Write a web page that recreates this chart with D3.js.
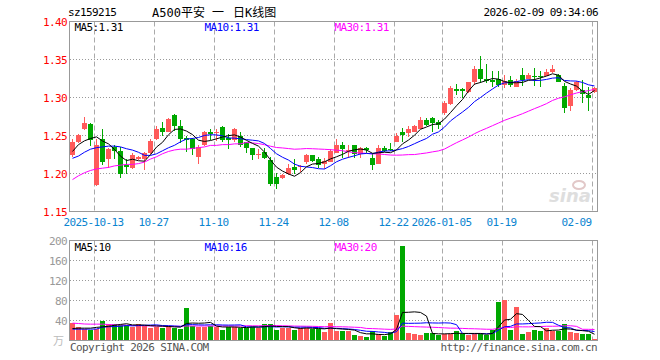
<!DOCTYPE html>
<html>
<head>
<meta charset="utf-8">
<script src="https://cdn.jsdelivr.net/npm/d3@7"></script>
<style>
body{margin:0;background:#fff;}
svg text{font-family:"DejaVu Sans Mono","Noto Sans CJK SC",monospace;font-size:11px;letter-spacing:-0.6px;}
</style>
</head>
<body>
<svg id="chart" width="660" height="360"></svg>
<script>
// trading days shown (88 slots)
var dates = ["2025-09-29","2025-09-30","2025-10-09","2025-10-10",
"2025-10-13","2025-10-14","2025-10-15","2025-10-16","2025-10-17",
"2025-10-20","2025-10-21","2025-10-22","2025-10-23","2025-10-24",
"2025-10-27","2025-10-28","2025-10-29","2025-10-30","2025-10-31",
"2025-11-03","2025-11-04","2025-11-05","2025-11-06","2025-11-07",
"2025-11-10","2025-11-11","2025-11-12","2025-11-13","2025-11-14",
"2025-11-17","2025-11-18","2025-11-19","2025-11-20","2025-11-21",
"2025-11-24","2025-11-25","2025-11-26","2025-11-27","2025-11-28",
"2025-12-01","2025-12-02","2025-12-03","2025-12-04","2025-12-05",
"2025-12-08","2025-12-09","2025-12-10","2025-12-11","2025-12-12",
"2025-12-15","2025-12-16","2025-12-17","2025-12-18","2025-12-19",
"2025-12-22","2025-12-23","2025-12-24","2025-12-25","2025-12-26",
"2025-12-29","2025-12-30","2025-12-31",
"2026-01-05","2026-01-06","2026-01-07","2026-01-08","2026-01-09",
"2026-01-12","2026-01-13","2026-01-14","2026-01-15","2026-01-16",
"2026-01-19","2026-01-20","2026-01-21","2026-01-22","2026-01-23",
"2026-01-26","2026-01-27","2026-01-28","2026-01-29","2026-01-30",
"2026-02-02","2026-02-03","2026-02-04","2026-02-05","2026-02-06",
"2026-02-09"];

var opens = [1.225,1.241,1.259,1.265,1.185,1.246,1.219,1.235,1.230,1.211,
1.207,1.219,1.219,1.227,1.245,1.260,1.255,1.277,1.262,1.247,
1.245,1.222,1.237,1.255,1.253,1.261,1.247,1.244,1.250,1.241,
1.233,1.224,1.228,1.218,1.195,1.194,1.199,1.209,1.208,1.215,
1.224,1.219,1.212,1.215,1.227,1.238,1.230,1.237,1.226,1.234,
1.221,1.213,1.233,1.232,1.241,1.255,1.253,1.255,1.259,1.270,
1.273,1.268,1.279,1.292,1.311,1.311,1.307,1.321,1.338,1.325,
1.323,1.324,1.317,1.323,1.314,1.329,1.324,1.328,1.328,1.328,
1.333,1.329,1.315,1.289,1.310,1.310,1.303,1.307];
var highs = [1.245,1.252,1.274,1.266,1.245,1.259,1.234,1.238,1.235,1.219,
1.227,1.223,1.228,1.245,1.262,1.268,1.273,1.278,1.270,1.249,
1.247,1.237,1.256,1.259,1.259,1.263,1.252,1.260,1.255,1.242,
1.234,1.232,1.234,1.222,1.201,1.200,1.212,1.219,1.211,1.226,
1.225,1.222,1.220,1.232,1.245,1.241,1.238,1.238,1.235,1.235,
1.227,1.238,1.236,1.240,1.253,1.260,1.263,1.264,1.275,1.273,
1.275,1.271,1.295,1.315,1.318,1.313,1.321,1.341,1.354,1.344,
1.335,1.335,1.330,1.328,1.325,1.339,1.332,1.339,1.335,1.337,
1.343,1.331,1.319,1.312,1.322,1.323,1.314,1.314];
var lows = [1.222,1.240,1.257,1.236,1.183,1.211,1.207,1.219,1.194,1.200,
1.206,1.218,1.205,1.226,1.244,1.249,1.255,1.256,1.240,1.228,
1.225,1.212,1.236,1.244,1.243,1.241,1.232,1.242,1.235,1.227,
1.218,1.219,1.219,1.183,1.179,1.193,1.198,1.200,1.202,1.212,
1.215,1.207,1.206,1.215,1.227,1.220,1.220,1.220,1.220,1.227,
1.205,1.213,1.228,1.229,1.241,1.242,1.248,1.255,1.259,1.262,
1.254,1.258,1.277,1.290,1.303,1.299,1.306,1.317,1.319,1.319,
1.314,1.314,1.312,1.314,1.314,1.315,1.324,1.315,1.314,1.328,
1.332,1.321,1.280,1.282,1.309,1.293,1.282,1.306];
var closes = [1.242,1.251,1.267,1.244,1.237,1.215,1.232,1.230,1.200,1.208,
1.224,1.222,1.227,1.243,1.258,1.255,1.272,1.262,1.246,1.244,
1.232,1.235,1.254,1.252,1.255,1.244,1.244,1.259,1.238,1.233,
1.224,1.226,1.220,1.186,1.186,1.198,1.207,1.205,1.210,1.224,
1.216,1.211,1.216,1.229,1.238,1.232,1.231,1.226,1.234,1.231,
1.211,1.234,1.230,1.231,1.249,1.251,1.259,1.262,1.270,1.264,
1.267,1.264,1.293,1.313,1.309,1.308,1.320,1.338,1.324,1.322,
1.321,1.316,1.322,1.316,1.322,1.323,1.330,1.327,1.327,1.334,
1.338,1.321,1.286,1.310,1.320,1.305,1.299,1.312];
// volume, 万手
var volumes = [34.7,26.7,24,22,24,40,32.7,32.7,31.3,31,
28,33.3,30,26,28,26,30,26,23.3,65.3,
30,28,28,30,28,21.3,28,28,26,26,
28,26,32.7,32.7,21.3,26,26,21.3,26,26,
23.3,23.3,18,34.7,19.3,19.3,19.3,11.3,9.3,7.3,
19.3,13.3,9.3,17.3,51.3,189.3,15.3,13.3,11.3,15.3,
15.3,11.3,13.3,13.3,19.3,13.3,11.3,13.3,13.3,11.3,
21.3,77.3,81.3,21.3,67.3,13.3,17.3,21.3,19.3,25.3,
19.3,19.3,33.3,17.3,15.3,13.3,13.3,3.3];

// average values at the left edge (their windows start before the first day shown)
var ma5Head = [1.229,1.238,1.243,1.246];
var ma10Head = [1.220,1.223,1.228,1.232,1.234,1.235,1.236,1.236,1.235];
var ma30Head = [1.192,1.197,1.201,1.204,1.206,1.207,1.208,1.210,1.211,1.212,
1.212,1.213,1.215,1.219,1.222,1.226,1.229,1.231,1.232,1.232,
1.233,1.234,1.235,1.237,1.237,1.238,1.238,1.239,1.239];
var vma5Head = [24,24.7,24.7,24.7];
var vma10Head = [22.7,22.7,22.7,22.7,23,26.5,27.5,28,28.5];
var vma30Head = [34.7,34,33,32.7,32.7,32.7,32,31.5,31,30.5,
30,29.5,29.5,29,29,28.5,28.5,28.5,28.5,29,
29,29,29,29,29,29,29,29,29];

var priceTicks = [1.15,1.20,1.25,1.30,1.35,1.40];
var volTicks = [40,80,120,160,200];
var dateTicks = ["2025-10-13","2025-10-27","2025-11-10","2025-11-24","2025-12-08","2025-12-22","2026-01-05","2026-01-19","2026-02-09"];
var dateTickLabels = ["2025-10-13","10-27","11-10","11-24","12-08","12-22","2026-01-05","01-19","02-09"];

var legendPrice = ["MA5:1.31","MA10:1.31","MA30:1.31"];
var legendVol = ["MA5:10","MA10:16","MA30:20"];
var maColors = ["#000000","#0000ff","#ff00ff"];
var upColor = "#ff5a5a", downColor = "#00a800";

function movingAvg(vals, n, head){
	return vals.map(function(v,i){
		if(i < n-1) return head[i];
		return d3.mean(vals.slice(i-n+1,i+1));
	});
}

var svg = d3.select("#chart");
var left = 70, right = 598;
var x = d3.scaleBand().domain(d3.range(dates.length)).range([left,right]).padding(0);
var y = d3.scaleLinear().domain([1.15,1.40]).range([211.5,21.5]);
var yv = d3.scaleLinear().domain([0,200]).range([340.5,240.5]);
var tickIdx = dateTicks.map(function(d){ return dates.indexOf(d); });

// header
svg.append("text").attr("x",68).attr("y",16).text("sz159215");
svg.append("text").attr("x",152).attr("y",17).style("font-size","12px").style("letter-spacing","0px").text("A500平安");
svg.append("text").attr("x",212).attr("y",17).style("font-size","12px").style("letter-spacing","0px").text("一");
svg.append("text").attr("x",233).attr("y",17).style("font-size","12px").style("letter-spacing","0px").text("日K线图");
svg.append("text").attr("x",598).attr("y",16).attr("text-anchor","end").text("2026-02-09 09:34:06");

// watermark
var wm = svg.append("g").attr("fill","#dedede");
wm.append("ellipse").attr("cx",579).attr("cy",185).attr("rx",6).attr("ry",4).attr("fill","none").attr("stroke","#e2c8c8").attr("stroke-width",2);
wm.append("text").attr("x",549).attr("y",202).style("font-family","'DejaVu Sans'").style("font-size","18px").style("font-weight","bold").style("font-style","italic").style("letter-spacing","0px").text("sina");

// grid: horizontal dotted
svg.append("g").selectAll("line").data(priceTicks.slice(1,-1)).enter().append("line")
	.attr("x1",left).attr("x2",right-0.5).attr("y1",function(d){return y(d);}).attr("y2",function(d){return y(d);})
	.attr("stroke","#999").attr("stroke-dasharray","1,2");
svg.append("g").selectAll("line").data(volTicks.slice(0,-1)).enter().append("line")
	.attr("x1",left).attr("x2",right-0.5).attr("y1",function(d){return yv(d);}).attr("y2",function(d){return yv(d);})
	.attr("stroke","#999").attr("stroke-dasharray","1,2");

// grid: vertical dashed at date ticks
[[21.5,211.5],[240.5,340.5]].forEach(function(r){
	svg.append("g").selectAll("line").data(tickIdx).enter().append("line")
		.attr("x1",function(i){return x(i)+0.5;}).attr("x2",function(i){return x(i)+0.5;})
		.attr("y1",r[0]).attr("y2",r[1])
		.attr("stroke","#aaa").attr("stroke-dasharray","5,3");
});

// frames
svg.append("rect").attr("x",left-0.5).attr("y",21.5).attr("width",right-left).attr("height",190).attr("fill","none").attr("stroke","#999");
svg.append("rect").attr("x",left-0.5).attr("y",240.5).attr("width",right-left).attr("height",100).attr("fill","none").attr("stroke","#999");

// candles
var idx = d3.range(dates.length);
var cg = svg.append("g").attr("shape-rendering","crispEdges");
cg.selectAll("rect.wick").data(idx).enter().append("rect").attr("class","wick")
	.attr("x",function(i){return x(i)+2;}).attr("width",1)
	.attr("y",function(i){return y(highs[i]);})
	.attr("height",function(i){return Math.max(1,y(lows[i])-y(highs[i]));})
	.attr("fill",function(i){return closes[i]>=opens[i]?upColor:downColor;});
cg.selectAll("rect.body").data(idx).enter().append("rect").attr("class","body")
	.attr("x",function(i){return x(i);}).attr("width",5)
	.attr("y",function(i){return y(Math.max(opens[i],closes[i]));})
	.attr("height",function(i){return Math.max(1,Math.abs(y(opens[i])-y(closes[i])));})
	.attr("fill",function(i){return closes[i]>=opens[i]?upColor:downColor;});

// volume bars
svg.append("g").attr("shape-rendering","crispEdges").selectAll("rect").data(idx).enter().append("rect")
	.attr("x",function(i){return x(i);}).attr("width",5)
	.attr("y",function(i){return yv(volumes[i]);})
	.attr("height",function(i){return yv(0)-0.5-yv(volumes[i]);})
	.attr("fill",function(i){return closes[i]>=opens[i]?upColor:downColor;});

// moving average lines
var priceMA = [movingAvg(closes,5,ma5Head),movingAvg(closes,10,ma10Head),movingAvg(closes,30,ma30Head)];
var volMA = [movingAvg(volumes,5,vma5Head),movingAvg(volumes,10,vma10Head),movingAvg(volumes,30,vma30Head)];
var pline = d3.line().x(function(d,i){return x(i)+2.5;}).y(function(d){return y(d);});
var vline = d3.line().x(function(d,i){return x(i)+2.5;}).y(function(d){return yv(d);});
[2,1,0].forEach(function(k){
	svg.append("path").attr("d",pline(priceMA[k])).attr("fill","none").attr("stroke",maColors[k]).attr("stroke-width",1);
	svg.append("path").attr("d",vline(volMA[k])).attr("fill","none").attr("stroke",maColors[k]).attr("stroke-width",1);
});

// axes
var ay = svg.append("g").attr("transform","translate(67,0)")
	.call(d3.axisLeft(y).tickValues(priceTicks).tickFormat(d3.format(".2f")).tickSize(0).tickPadding(0));
ay.select(".domain").remove();
ay.selectAll("text").attr("fill","#ff0000").style("font-family",null).style("font-size",null).attr("font-family",null).attr("font-size",null);

var av = svg.append("g").attr("transform","translate(67,0)")
	.call(d3.axisLeft(yv).tickValues(volTicks).tickSize(0).tickPadding(0));
av.select(".domain").remove();
av.selectAll("text").attr("fill","#999").attr("font-family",null).attr("font-size",null);
svg.append("text").attr("x",64).attr("y",345).attr("text-anchor","end").attr("fill","#bbb").style("letter-spacing","0px").text("万");

var ax = svg.append("g").attr("transform","translate(-3.5,211.5)")
	.call(d3.axisBottom(x).tickValues(tickIdx).tickFormat(function(d,k){return dateTickLabels[k];}).tickSize(0));
ax.select(".domain").remove();
ax.selectAll("text").attr("y",14.5).attr("dy",0).attr("fill","#0a84d0").attr("font-family",null).attr("font-size",null);
ax.selectAll(".tick:last-of-type text").attr("text-anchor","end");

// legends
var legX = [74.5,204.5,334.5];
legendPrice.forEach(function(t,k){
	svg.append("text").attr("x",legX[k]).attr("y",31).attr("fill",maColors[k]).text(t);
});
legendVol.forEach(function(t,k){
	svg.append("text").attr("x",legX[k]).attr("y",250.5).attr("fill",maColors[k]).text(t);
});

// footer
svg.append("text").attr("x",70).attr("y",350.5).attr("fill","#555").text("Copyright 2026 SINA.COM");
svg.append("text").attr("x",597).attr("y",350.5).attr("text-anchor","end").attr("fill","#555").text("http://finance.sina.com.cn");
</script>
</body>
</html>
